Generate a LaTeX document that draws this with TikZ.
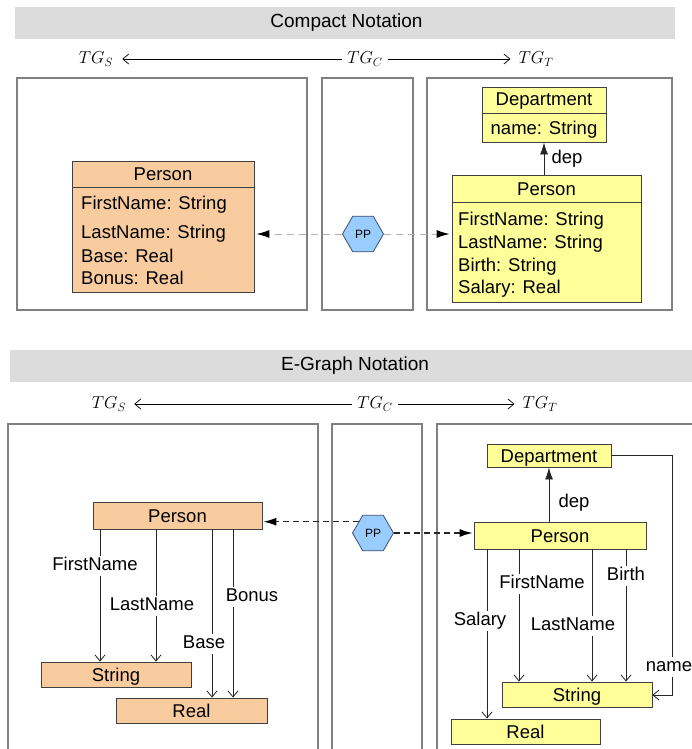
\documentclass[tikz,border=0pt]{standalone}
\usepackage{fontspec}
\setmainfont{Liberation Sans}
\usetikzlibrary{arrows.meta,shapes.geometric}
\definecolor{bannergray}{RGB}{220,220,220}
\definecolor{peach}{RGB}{249,204,160}
\definecolor{lightyellow}{RGB}{255,255,153}
\definecolor{hexblue}{RGB}{153,204,255}
\definecolor{hexedge}{RGB}{60,80,110}
\definecolor{panelgray}{RGB}{128,128,128}
\begin{document}
\begin{tikzpicture}[x=1pt,y=-1pt,
  panel/.style={draw=panelgray,line width=1.5pt},
  banner/.style={fill=bannergray,draw=none},
  bfont/.style={font=\fontsize{18.5}{21}\selectfont},
  umlS/.style={draw=black!75,fill=peach,line width=0.9pt,inner sep=0pt,bfont,text height=13.3pt,text depth=0pt},
  umlT/.style={draw=black!75,fill=lightyellow,line width=0.9pt,inner sep=0pt,bfont,text height=13.3pt,text depth=0pt},
  divider/.style={draw=black!75,line width=0.9pt},
  rowtxt/.style={bfont,inner sep=0pt,anchor=base west},
  titletxt/.style={bfont,inner sep=0pt,anchor=base},
  hexnode/.style={regular polygon,regular polygon sides=6,minimum size=41pt,draw=hexedge,fill=hexblue,line width=0.8pt,inner sep=0pt,font=\fontsize{12}{14}\selectfont},
  typeedge/.style={draw=black!85,line width=0.8pt,-{Straight Barb[length=6pt,width=10pt]}},
  solidtip/.style={draw=black!85,line width=0.9pt,-{Latex[length=12pt,width=8pt]}},
  lbl/.style={bfont,fill=white,inner sep=1.5pt,text height=13.3pt,text depth=4pt},
  tgtxt/.style={font=\fontsize{18}{20}\selectfont,inner sep=0pt},
  tgarrow/.style={draw=black,line width=0.7pt,-{Straight Barb[length=6pt,width=10pt]}},
  mapdashS/.style={draw=gray!60,line width=1pt,dash pattern=on 7pt off 5pt,shorten >=2pt,-{Latex[length=13pt,width=8pt,black]}},
  mapdashE/.style={draw=black!85,line width=1.2pt,dash pattern=on 6pt off 4pt,shorten >=1pt,-{Latex[length=13pt,width=8pt,black]}}
]
\clip (0,0) rectangle (692,749);
\fill[white] (0,0) rectangle (692,749);

% ---------- Compact notation ----------
\fill[banner] (15,7) rectangle (675,39);
\node[font=\fontsize{19}{21}\selectfont,inner sep=0pt] (ban1) at (346.5,23) {Compact Notation};

\node[tgtxt] (tgs1) at (96,59) {$TG_S$};
\node[tgtxt] (tgc1) at (365,59) {$TG_C$};
\node[tgtxt] (tgt1) at (536,59) {$TG_T$};
\draw[tgarrow,shorten <=5pt,shorten >=9pt] (tgc1.west) -- (tgs1.east);
\draw[tgarrow,shorten <=5pt,shorten >=8pt] (tgc1.east) -- (tgt1.west);

\draw[panel] (17,78) rectangle (307,310);
\draw[panel] (322,78) rectangle (413,310);
\draw[panel] (427,78) rectangle (672,310);

\node[umlS,minimum width=182pt,minimum height=131pt] (ps1) at (163,226.5) {};
\draw[divider] (ps1.west |- 0,187) -- (ps1.east |- 0,187);
\node[titletxt] (ps1t) at (163,180) {Person};
\node[rowtxt] (ps1a) at (81,209) {FirstName: String};
\node[rowtxt] (ps1b) at (81,238) {LastName: String};
\node[rowtxt] (ps1c) at (81,262) {Base: Real};
\node[rowtxt] (ps1d) at (81,284) {Bonus: Real};

\node[hexnode] (pp1) at (363,234) {PP};

\node[umlT,minimum width=124pt,minimum height=55pt] (dp1) at (544,114.5) {};
\draw[divider] (dp1.west |- 0,113) -- (dp1.east |- 0,113);
\node[titletxt] (dp1t) at (544,106) {Department};
\node[titletxt] (dp1a) at (544,135) {name: String};

\node[umlT,minimum width=189pt,minimum height=127pt] (pt1) at (546.5,238.5) {};
\draw[divider] (pt1.west |- 0,202) -- (pt1.east |- 0,202);
\node[titletxt] (pt1t) at (546.5,195) {Person};
\node[rowtxt] (pt1a) at (458,225) {FirstName: String};
\node[rowtxt] (pt1b) at (458,248) {LastName: String};
\node[rowtxt] (pt1c) at (458,271) {Birth: String};
\node[rowtxt] (pt1d) at (458,293) {Salary: Real};

\draw[solidtip] (pt1.north -| 544,0) -- (dp1.south -| 544,0);
\node[bfont,inner sep=0pt] (dep1) at (567,159) {dep};

\draw[mapdashS] (pp1.west) -- (ps1.east |- pp1.west);
\draw[mapdashS] (pp1.east) -- (pt1.west |- pp1.east);

% ---------- E-Graph notation ----------
\fill[banner] (10,350) rectangle (700,382);
\node[font=\fontsize{19}{21}\selectfont,inner sep=0pt] (ban2) at (355,366) {E-Graph Notation};

\node[tgtxt] (tgs2) at (109,404) {$TG_S$};
\node[tgtxt] (tgc2) at (375,404) {$TG_C$};
\node[tgtxt] (tgt2) at (540,404) {$TG_T$};
\draw[tgarrow,shorten <=5pt,shorten >=8pt] (tgc2.west) -- (tgs2.east);
\draw[tgarrow,shorten <=5pt,shorten >=8pt] (tgc2.east) -- (tgt2.west);

\draw[panel] (8,424) rectangle (318,770);
\draw[panel] (332,424) rectangle (422,770);
\draw[panel] (437,424) rectangle (710,770);

% source side
\node[umlS,minimum width=169pt,minimum height=27pt] (ps2) at (177.5,515.5) {Person};
\node[umlS,minimum width=150pt,minimum height=25pt] (str2) at (116,674.5) {String};
\node[umlS,minimum width=151pt,minimum height=25pt] (real2) at (191.5,710.5) {Real};

\draw[typeedge] (ps2.south -| 100,0) -- (str2.north -| 100,0);
\draw[typeedge] (ps2.south -| 156,0) -- (str2.north -| 156,0);
\draw[typeedge] (ps2.south -| 212,0) -- (real2.north -| 212,0);
\draw[typeedge] (ps2.south -| 233,0) -- (real2.north -| 233,0);
\node[lbl] (l2fn) at (95,566) {FirstName};
\node[lbl] (l2ln) at (152,606) {LastName};
\node[lbl] (l2ba) at (204,644) {Base};
\node[lbl] (l2bo) at (252,597) {Bonus};

% correspondence
\node[hexnode] (pp2) at (373,533) {PP};

% target side
\node[umlT,minimum width=124pt,minimum height=23pt] (dp2) at (549,455.5) {Department};
\node[umlT,minimum width=172pt,minimum height=27pt] (pt2) at (560,535.5) {Person};
\node[umlT,minimum width=150pt,minimum height=25pt] (str3) at (577,694.5) {String};
\node[umlT,minimum width=149pt,minimum height=25pt] (real3) at (525.5,731.5) {Real};

\draw[solidtip] (pt2.north -| 549,0) -- (dp2.south -| 549,0);
\node[bfont,inner sep=0pt] (dep2) at (574,503) {dep};

\draw[typeedge] (pt2.south -| 487,0) -- (real3.north -| 487,0);
\draw[typeedge] (pt2.south -| 519,0) -- (str3.north -| 519,0);
\draw[typeedge] (pt2.south -| 592,0) -- (str3.north -| 592,0);
\draw[typeedge] (pt2.south -| 626,0) -- (str3.north -| 626,0);
\coordinate (nmc) at (672,695);
\draw[typeedge] (dp2.east) -| (nmc) -- (str3.east |- nmc);
\node[lbl] (l3sa) at (480,621) {Salary};
\node[lbl] (l3fn) at (542,584) {FirstName};
\node[lbl] (l3ln) at (573,626) {LastName};
\node[lbl] (l3bi) at (626,576) {Birth};
\node[lbl] (l3nm) at (669,667) {name};

\draw[mapdashE] (pp2.142) -- (ps2.east |- pp2.142);
\draw[mapdashE] (pp2.east) -- (pt2.west |- pp2.east);
\end{tikzpicture}
\end{document}
